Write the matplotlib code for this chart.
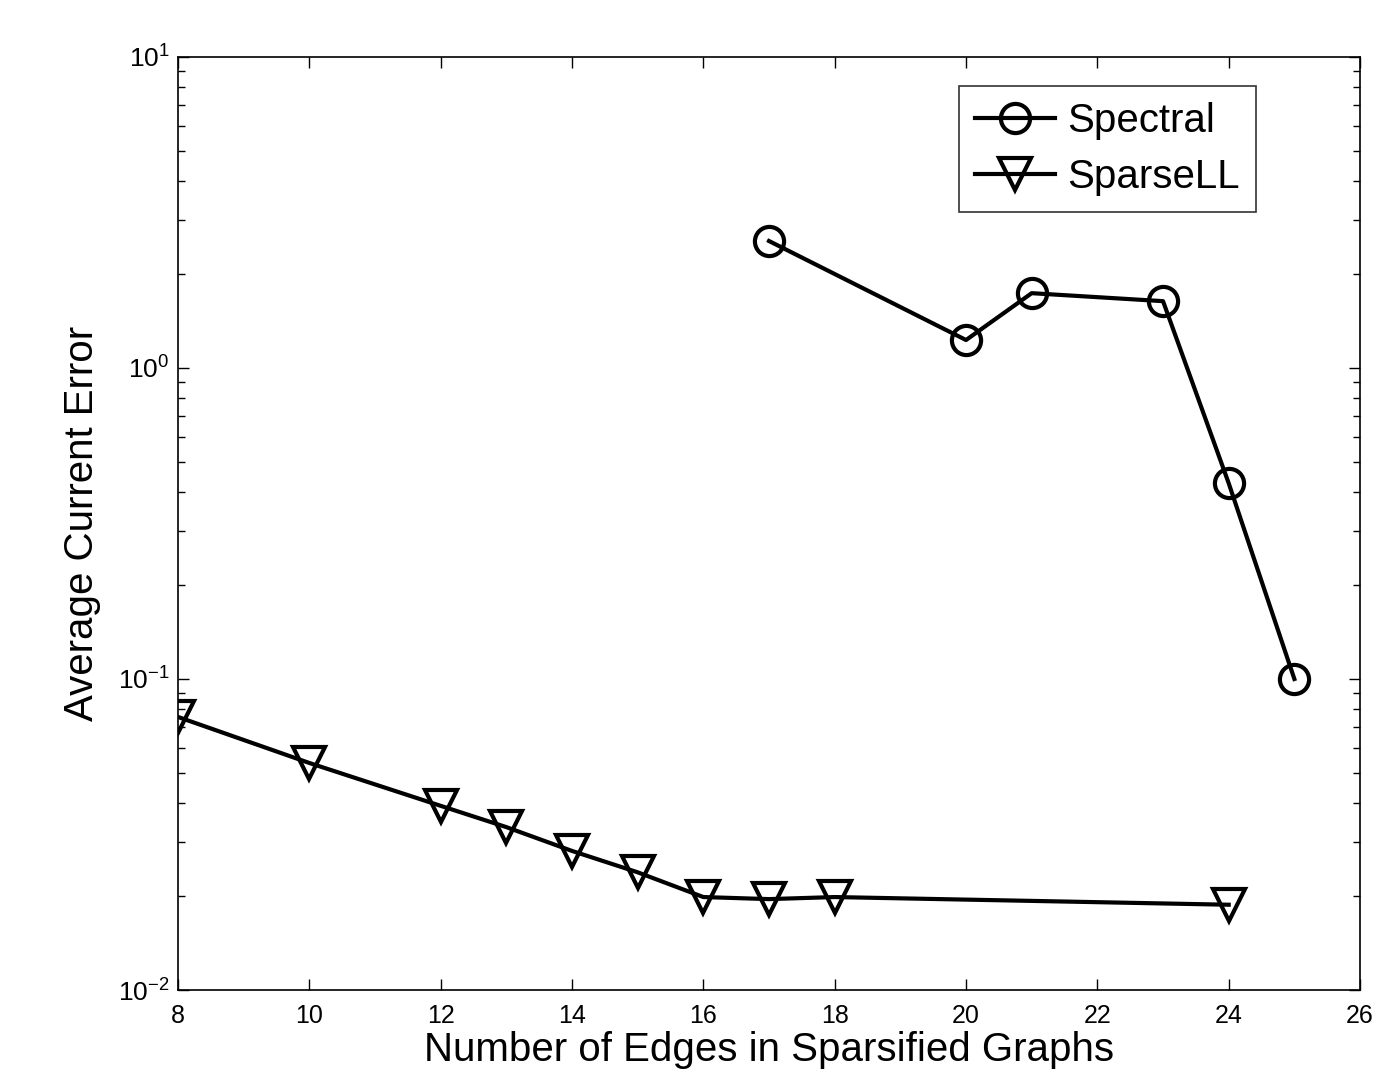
import matplotlib
matplotlib.use("Agg")
import matplotlib.pyplot as plt
from matplotlib.ticker import LogLocator

plt.rcParams['font.family'] = ['Liberation Sans', 'DejaVu Sans']
plt.rcParams['mathtext.fontset'] = 'custom'
plt.rcParams['mathtext.rm'] = 'Liberation Sans'
plt.rcParams['mathtext.it'] = 'Liberation Sans'
plt.rcParams['mathtext.bf'] = 'Liberation Sans'

spectral_x = [17, 20, 21, 23, 24, 25]
spectral_y = [2.56, 1.23, 1.74, 1.64, 0.426, 0.100]
sparsell_x = [8, 10, 12, 13, 14, 15, 16, 17, 18, 24]
sparsell_y = [0.0755, 0.0537, 0.0391, 0.0334, 0.0280, 0.0239, 0.0199, 0.0196, 0.0199, 0.0188]
xticks = [8, 10, 12, 14, 16, 18, 20, 22, 24, 26]
yticks = [1e-2, 1e-1, 1e0, 1e1]
ytick_labels = [r'$\mathregular{10^{-2}}$', r'$\mathregular{10^{-1}}$',
                r'$\mathregular{10^{0}}$', r'$\mathregular{10^{1}}$']

fig = plt.figure(figsize=(13.83, 10.69), dpi=100)
ax = fig.add_axes([0.1287, 0.0739, 0.8547, 0.8728])

ax.plot(spectral_x, spectral_y, color='black', lw=3, marker='o', ms=21,
        mfc='none', mec='black', mew=3, label='Spectral')
ax.plot(sparsell_x, sparsell_y, color='black', lw=3, marker='v', ms=23,
        mfc='none', mec='black', mew=3, label='SparseLL')

ax.set_yscale('log')
ax.set_xlim(8, 26)
ax.set_ylim(1e-2, 1e1)
ax.set_xticks(xticks)
ax.set_yticks(yticks)
ax.set_yticklabels(ytick_labels)
ax.yaxis.set_minor_locator(LogLocator(base=10, subs=range(2, 10), numticks=10))

ax.tick_params(which='both', direction='in', top=True, right=True, labelsize=18, color='black')
ax.tick_params(axis='y', labelsize=19)
ax.tick_params(which='major', length=8, width=1)
ax.tick_params(which='minor', length=5, width=1)
ax.tick_params(axis='x', pad=10)
ax.tick_params(axis='y', pad=6)
for s in ax.spines.values():
    s.set_linewidth(1.2)

ax.set_xlabel('Number of Edges in Sparsified Graphs', fontsize=29, labelpad=2)
ax.set_ylabel('Average Current Error', fontsize=29, labelpad=12)

leg = ax.legend(loc='upper right', fontsize=29, frameon=True, fancybox=False,
                edgecolor='black', handlelength=2.0,
                handletextpad=0.3, borderpad=0.4, labelspacing=0.45,
                bbox_to_anchor=(0.912, 0.969), borderaxespad=0)
leg.get_frame().set_linewidth(1.2)

fig.savefig('out.png', dpi=100)
